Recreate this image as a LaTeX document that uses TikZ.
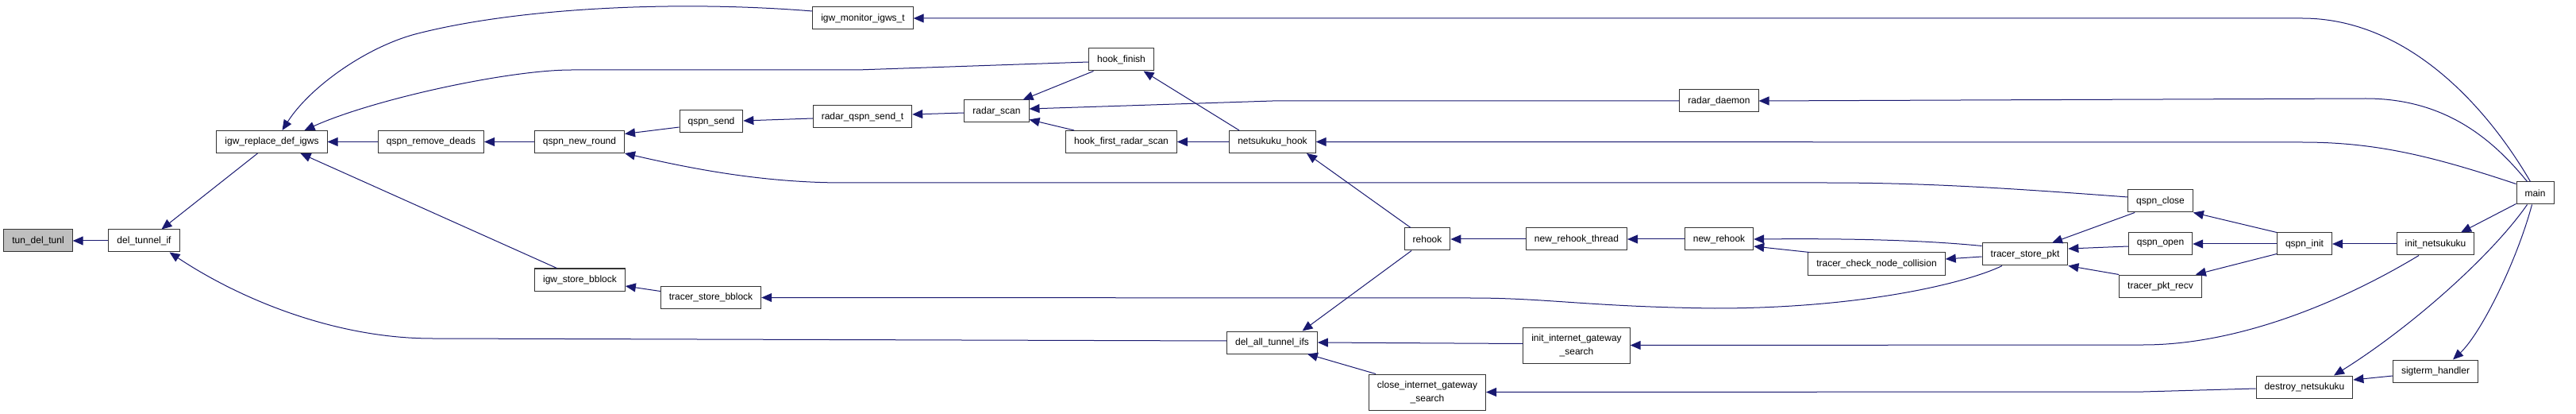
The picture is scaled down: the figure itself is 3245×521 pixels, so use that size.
\documentclass[tikz,border=0pt]{standalone}
\usepackage{fontspec}
\setmainfont{Liberation Sans}
\usetikzlibrary{arrows.meta}
\definecolor{callblue}{HTML}{191970}
\tikzset{fn/.style={draw=black!80,fill=white,line width=1pt,inner xsep=10.5pt,inner ysep=0pt,minimum height=28pt,align=center},
 cur/.style={fn,fill=black!25},
 two/.style={fn,minimum height=45pt},
 call/.style={-{Triangle[length=13pt,width=11pt]},draw=callblue,line width=1pt}}

\begin{document}
\begin{tikzpicture}[x=1pt,y=-1pt,font=\fontsize{12}{17}\selectfont]
\useasboundingbox (0,0) rectangle (3245,521);
% functions, left to right
\node[cur] (tdt) at (48,303){tun\_del\_tunl};
\node[fn] (dti) at (181.5,303){del\_tunnel\_if};
\node[fn] (igw) at (342.5,178.5){igw\_replace\_def\_igws};
\node[fn] (qrd) at (543,178.5){qspn\_remove\_deads};
\node[fn] (qnr) at (730,178.5){qspn\_new\_round};
\node[fn] (isb) at (730.5,352){igw\_store\_bblock};
\node[fn] (qs) at (896,153){qspn\_send};
\node[fn] (tsb) at (895.5,374.5){tracer\_store\_bblock};
\node[fn] (imit) at (1087,23){igw\_monitor\_igws\_t};
\node[fn] (rqst) at (1086.5,147){radar\_qspn\_send\_t};
\node[fn] (rs) at (1255.5,140){radar\_scan};
\node[fn] (hf) at (1412.5,75){hook\_finish};
\node[fn] (hfrs) at (1412.5,178.5){hook\_first\_radar\_scan};
\node[fn] (nh) at (1603,178.5){netsukuku\_hook};
\node[fn] (dati) at (1602.5,431){del\_all\_tunnel\_ifs};
\node[fn] (rh) at (1798,301){rehook};
\node[two] (cigs) at (1798,493.5){close\_internet\_gateway\\\_search};
\node[fn] (nrt) at (1986,301){new\_rehook\_thread};
\node[two] (iigs) at (1986,434.5){init\_internet\_gateway\\\_search};
\node[fn] (rd) at (2165.5,127){radar\_daemon};
\node[fn] (nr) at (2165.5,301){new\_rehook};
\node[fn] (tcnc) at (2364,332){tracer\_check\_node\_collision};
\node[fn] (tsp) at (2551,320){tracer\_store\_pkt};
\node[fn] (qc) at (2721.5,253){qspn\_close};
\node[fn] (qo) at (2721.5,307){qspn\_open};
\node[fn] (tpr) at (2721.5,360){tracer\_pkt\_recv};
\node[fn] (qi) at (2903,307){qspn\_init};
\node[fn] (dn) at (2903,487){destroy\_netsukuku};
\node[fn] (inn) at (3068,307){init\_netsukuku};
\node[fn] (sh) at (3068,467){sigterm\_handler};
\node[fn] (mn) at (3193.5,243){main};
% callers -> callees
\draw[call] (dti) -- (tdt);
\draw[call] ([xshift=-18pt]igw.south) -- ([xshift=22pt]dti.north);
\draw[call] ([yshift=2pt]dati.west) -- (545,426) .. controls (420,426) and (300,375) .. ([xshift=-13pt]dti.south east);
\draw[call] ([yshift=9pt]imit.west) .. controls (850,0) and (650,10) .. (523,43) .. controls (460,60) and (390,110) .. ([xshift=13pt]igw.north);
\draw[call] ([yshift=-3pt]hf.west) -- (1080,88) -- (720,88) .. controls (640,88) and (470,125) .. ([xshift=41pt]igw.north);
\draw[call] (qrd) -- (igw);
\draw[call] ([xshift=-29pt]isb.north) -- ([xshift=36pt]igw.south);
\draw[call] (qnr) -- (qrd);
\draw[call] ([yshift=-7pt]qs.west) -- ([yshift=10pt]qnr.east);
\draw[call] ([yshift=5pt]qc.west) .. controls (2520,236) and (2420,230) .. (2300,230) -- (1063,230) .. controls (960,230) and (870,212) .. (qnr.south east);
\draw[call] ([yshift=-2pt]rqst.west) -- ([yshift=1pt]qs.east);
\draw[call] ([yshift=-2pt]rs.west) -- ([yshift=3pt]rqst.east);
\draw[call] ([xshift=-35pt]hf.south) -- ([xshift=-8pt]rs.north east);
\draw[call] (rd.west) -- (1603,127) -- ([yshift=3pt]rs.east);
\draw[call] ([xshift=11pt]hfrs.north west) -- ([yshift=4pt]rs.south east);
\draw[call] (nh) -- (hfrs);
\draw[call] ([xshift=-42pt]nh.north) -- ([xshift=28pt]hf.south);
\draw[call] ([yshift=-3pt]mn.north west) .. controls (3060,195) and (2990,179) .. (2900,179) -- (nh.east);
\draw[call] ([xshift=-21pt]rh.north) -- ([xshift=43pt]nh.south);
\draw[call] ([yshift=8pt]tsb.west) -- ([yshift=-8pt]isb.east);
\draw[call] ([xshift=-29pt]tsp.south) .. controls (2480,355) and (2350,388) .. (2160,388) .. controls (2000,386) and (1950,375) .. (1853,375) -- (tsb.east);
\draw[call] ([xshift=-6pt]mn.north) .. controls (3130,130) and (3030,23) .. (2900,23) -- (imit.east);
\draw[call] ([xshift=-10pt]mn.north) .. controls (3140,175) and (3080,124) .. (2980,124) -- (rd.east);
\draw[call] (nrt) -- (rh);
\draw[call] (nr) -- (nrt);
\draw[call] ([yshift=-4pt]tsp.north west) .. controls (2420,302) and (2330,300) .. (nr.east);
\draw[call] ([xshift=2pt]tcnc.north west) -- ([yshift=-9pt]nr.east);
\draw[call] ([yshift=-3pt]tsp.west) -- ([yshift=6pt]tcnc.east);
\draw[call] ([xshift=-20pt]rh.south) -- ([xshift=38pt]dati.north);
\draw[call] ([yshift=2pt]iigs.west) -- (dati.east);
\draw[call] ([xshift=9pt]cigs.north west) -- ([xshift=-13pt]dati.south east);
\draw[call] ([xshift=-21pt]inn.south) .. controls (2950,380) and (2820,434) .. (2700,434) -- (iigs.east);
\draw[call] ([yshift=-2pt]dn.west) -- (2700,493) -- (cigs.east);
\draw[call] ([xshift=9pt]qc.south west) -- ([xshift=34pt]tsp.north);
\draw[call] ([yshift=-3pt]qo.west) -- ([yshift=7pt]tsp.east);
\draw[call] (tpr.north west) -- (tsp.south east);
\draw[call] (qi.north west) -- (qc.south east);
\draw[call] (qi) -- (qo);
\draw[call] ([yshift=2pt]qi.south west) -- ([xshift=-8pt]tpr.north east);
\draw[call] (inn) -- (qi);
\draw[call] ([yshift=1pt]mn.south west) -- ([xshift=32pt]inn.north);
\draw[call] ([xshift=-10pt]mn.south) .. controls (3140,320) and (3040,410) .. ([xshift=37pt]dn.north);
\draw[call] ([yshift=-6pt]sh.west) -- ([yshift=9pt]dn.east);
\draw[call] ([xshift=-4pt]mn.south) .. controls (3170,330) and (3125,420) .. ([xshift=22pt]sh.north);
\end{tikzpicture}
\end{document}
